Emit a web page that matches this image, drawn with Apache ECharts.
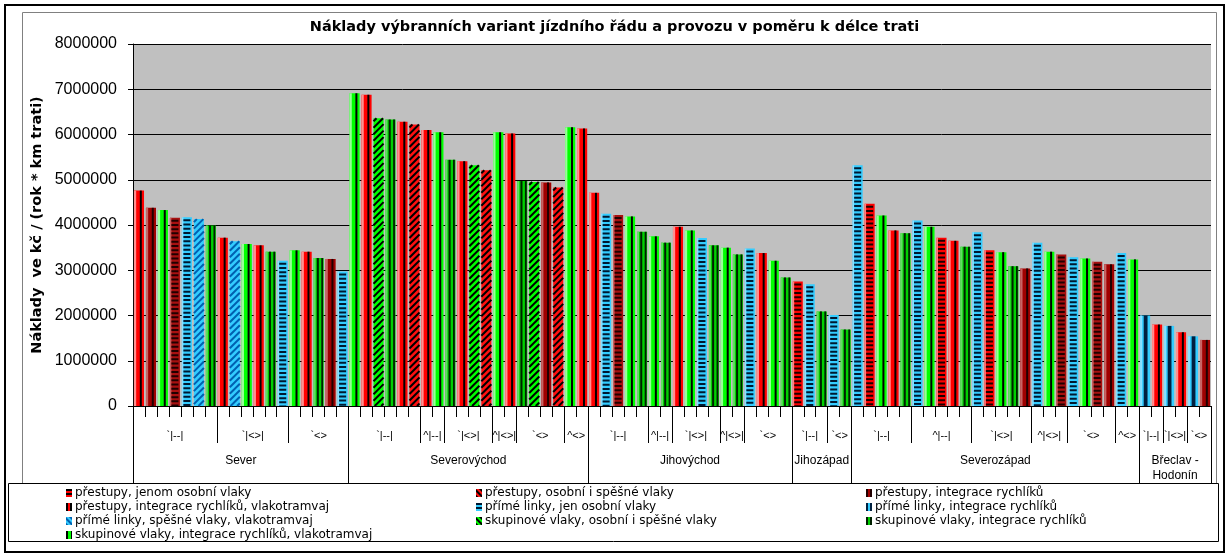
<!DOCTYPE html>
<html>
<head>
<meta charset="utf-8">
<script src="https://cdn.jsdelivr.net/npm/echarts@6/dist/echarts.min.js"></script>
<style>
  html, body { margin: 0; padding: 0; background: #fff; }
  #chart { width: 1229px; height: 556px; }
</style>
</head>
<body>
<div id="chart"></div>
<script>
// ---- data -------------------------------------------------------------
const titleText = 'Náklady výbranních variant jízdního řádu a provozu v poměru k délce trati';
const yAxisTitle = 'Náklady  ve kč / (rok * km trati)';
const yTicks = { min: 0, max: 8000000, step: 1000000 };

const seriesNames = [
  'přestupy, jenom osobní vlaky',
  'přestupy, osobní i spěšné vlaky',
  'přestupy, integrace rychlíků',
  'přestupy, integrace rychlíků, vlakotramvaj',
  'přímé linky, jen osobní vlaky',
  'přímé linky, integrace rychlíků',
  'přímé linky, spěšné vlaky, vlakotramvaj',
  'skupinové vlaky, osobní i spěšné vlaky',
  'skupinové vlaky, integrace rychlíků',
  'skupinové vlaky, integrace rychlíků, vlakotramvaj'
];

const regions = ['Sever', 'Severovýchod', 'Jihovýchod', 'Jihozápad', 'Severozápad', 'Břeclav -\nHodonín'];

// timetable sub-variants of each region: [label, number of bars]
const subgroups = [
  [['`|--|', 7], ['`|<>|', 6], ['`<>', 5]],
  [['`|--|', 6], ['^|--|', 2], ['`|<>|', 4], ['^|<>|', 2], ['`<>', 4], ['^<>', 2]],
  [['`|--|', 5], ['^|--|', 2], ['`|<>|', 4], ['^|<>|', 2], ['`<>', 4]],
  [['`|--|', 3], ['`<>', 2]],
  [['`|--|', 5], ['^|--|', 5], ['`|<>|', 5], ['^|<>|', 3], ['`<>', 4], ['^<>', 2]],
  [['`|--|', 2], ['`|<>|', 2], ['`<>', 2]]
];

// cost per bar (Kč / year / km) and its operating variant
const valuesSever = [4760000, 4380000, 4330000, 4160000, 4170000, 4130000, 3990000, 3720000, 3640000,
  3580000, 3550000, 3410000, 3210000, 3440000, 3410000, 3270000, 3250000, 2970000];
const kindsSever = ['RV', 'DR', 'GV', 'DH', 'BH', 'BD', 'DG', 'RV', 'BD', 'GV', 'RV', 'DG', 'BH', 'GV', 'RV', 'DG', 'DR', 'BH'];

const valuesSeverovychod = [6910000, 6880000, 6360000, 6330000, 6280000, 6220000, 6100000, 6050000, 5440000, 5410000,
  5320000, 5210000, 6050000, 6020000, 4970000, 4950000, 4940000, 4830000, 6160000, 6130000];
const kindsSeverovychod = ['GV', 'RV', 'GD', 'DG', 'RV', 'RD', 'RV', 'GV', 'DG', 'RV', 'GD', 'RD', 'GV', 'RV', 'DG', 'GD', 'DR', 'RD', 'GV', 'RV'];

const valuesJihovychod = [4710000, 4250000, 4220000, 4190000, 3850000, 3750000, 3610000, 3960000, 3880000,
  3710000, 3550000, 3500000, 3350000, 3480000, 3380000, 3210000, 2840000];
const kindsJihovychod = ['RV', 'BH', 'DH', 'GV', 'DG', 'GV', 'DG', 'RV', 'GV', 'BH', 'DG', 'GV', 'DG', 'BH', 'RV', 'GV', 'DG'];

const valuesJihozapad = [2750000, 2690000, 2090000, 2010000, 1690000];
const kindsJihozapad = ['RH', 'BH', 'DG', 'BH', 'DG'];

const valuesSeverozapad = [5320000, 4470000, 4210000, 3880000, 3820000, 4100000, 3960000, 3720000, 3650000, 3520000,
  3840000, 3440000, 3400000, 3090000, 3040000, 3610000, 3410000, 3350000, 3290000, 3260000, 3190000, 3130000, 3380000, 3240000];
const kindsSeverozapad = ['BH', 'RH', 'GV', 'RV', 'DG', 'BH', 'GV', 'RH', 'RV', 'DG', 'BH', 'RH', 'GV', 'DG', 'DR', 'BH',
  'GV', 'DH', 'BH', 'GV', 'DH', 'DR', 'BH', 'GV'];

const valuesBreclav = [2000000, 1800000, 1770000, 1630000, 1540000, 1460000];
const kindsBreclav = ['BV', 'RV', 'BV', 'RV', 'BV', 'DR'];

// ---- bar appearance per variant -------------------------------------
const kindStyles = {
  RH: { series: 0, fill: '#FF0000', tint: '#FF8080', pattern: 'h', ink: '#1A0000' },
  RD: { series: 1, fill: '#FF1010', tint: '#FF8080', pattern: 'd', ink: '#000000' },
  DR: { series: 2, fill: '#A00000', tint: '#C86464', pattern: 'v', ink: '#200000' },
  DH: { series: 2, fill: '#A81010', tint: '#C86464', pattern: 'h', ink: '#200000' },
  RV: { series: 3, fill: '#FF0000', tint: '#FF9090', pattern: 'v', ink: '#000000' },
  BH: { series: 4, fill: '#33CCFF', tint: '#8ADFFF', pattern: 'h', ink: '#001830' },
  BV: { series: 5, fill: '#33CCFF', tint: '#8ADFFF', pattern: 'vb', ink: '#002040' },
  BD: { series: 6, fill: '#33CCFF', tint: '#8ADFFF', pattern: 'd', ink: '#0060B0' },
  GD: { series: 7, fill: '#00FF00', tint: '#80FF80', pattern: 'd', ink: '#000000' },
  DG: { series: 8, fill: '#00D000', tint: '#60E060', pattern: 'vv', ink: '#002000' },
  GV: { series: 9, fill: '#00FF00', tint: '#99FF99', pattern: 'v', ink: '#000000' }
};
const legendColors = ['#FF0000', '#FF1010', '#A00000', '#FF0000', '#33CCFF', '#33CCFF', '#33CCFF', '#00FF00', '#00D000', '#00FF00'];
const legendDecals = [
  { color: '#000', dashArrayX: [1, 0], dashArrayY: [2, 2], symbolSize: 1 },
  { color: '#000', dashArrayX: [1, 0], dashArrayY: [2, 2], rotation: Math.PI / 4, symbolSize: 1 },
  { color: '#200000', dashArrayX: [2, 2], dashArrayY: [1, 0], symbolSize: 1 },
  { color: '#000', dashArrayX: [2, 2], dashArrayY: [1, 0], symbolSize: 1 },
  { color: '#001830', dashArrayX: [1, 0], dashArrayY: [2, 2], symbolSize: 1 },
  { color: '#002040', dashArrayX: [2, 2], dashArrayY: [1, 0], symbolSize: 1 },
  { color: '#0060B0', dashArrayX: [1, 0], dashArrayY: [2, 2], rotation: Math.PI / 4, symbolSize: 1 },
  { color: '#000', dashArrayX: [1, 0], dashArrayY: [2, 2], rotation: Math.PI / 4, symbolSize: 1 },
  { color: '#002000', dashArrayX: [2, 2], dashArrayY: [1, 0], symbolSize: 1 },
  { color: '#000', dashArrayX: [2, 3], dashArrayY: [1, 0], symbolSize: 1 }
];

// ---- assemble ---------------------------------------------------------
const values = [].concat(valuesSever, valuesSeverovychod, valuesJihovychod, valuesJihozapad, valuesSeverozapad, valuesBreclav);
const kinds = [].concat(kindsSever, kindsSeverovychod, kindsJihovychod, kindsJihozapad, kindsSeverozapad, kindsBreclav);
const barCount = values.length;
const barIds = values.map((_, i) => String(i));

// half-bar positions for the two label rows under the axis
const halfSlots = [];
for (let i = 0; i <= barCount * 2; i++) halfSlots.push(String(i));
const subBounds = new Set([0]);
const subCenters = new Map();
const regionBounds = new Set([0]);
const regionCenters = new Map();
let pos = 0;
subgroups.forEach((subs, r) => {
  const start = pos;
  subs.forEach(([label, n]) => {
    subCenters.set(2 * pos + n, label);
    pos += n;
    subBounds.add(2 * pos);
  });
  regionCenters.set(start + pos, regions[r]);
  regionBounds.add(2 * pos);
});

function rect(x, y, w, h, fill) {
  return { type: 'rect', shape: { x: x, y: y, width: w, height: h }, style: { fill: fill } };
}

function drawBar(params, api) {
  const i = api.value(0);
  const st = kindStyles[kinds[i]];
  const p1 = api.coord([i, api.value(1)]);
  const p0 = api.coord([i, 0]);
  const w = api.size([1, 0])[0] * 0.84;
  const L = p1[0] - w / 2, T = p1[1], B = p0[1], H = B - T;
  const kids = [rect(L, T, w, H, st.fill)];
  if (st.pattern === 'v') {
    kids.push(rect(L, T, w * 0.22, H, st.tint));
    kids.push(rect(L + w * 0.58, T, w * 0.2, H, st.ink));
  } else if (st.pattern === 'vv') {
    kids.push(rect(L, T, w * 0.2, H, st.tint));
    kids.push(rect(L + w * 0.32, T, w * 0.2, H, st.ink));
    kids.push(rect(L + w * 0.76, T, w * 0.18, H, st.ink));
  } else if (st.pattern === 'vb') {
    kids.push(rect(L, T, w * 0.2, H, st.tint));
    kids.push(rect(L + w * 0.36, T, w * 0.38, H, st.ink));
  } else if (st.pattern === 'h') {
    kids.push(rect(L, T, w * 0.15, H, st.tint));
    kids.push({
      type: 'line',
      shape: { x1: L + w / 2, y1: T + 2, x2: L + w / 2, y2: B },
      style: { stroke: st.ink, lineWidth: w * 0.7, lineDash: [2, 2.2] }
    });
  } else if (st.pattern === 'd') {
    const step = 6.5;
    for (let c = L + T + 3; c < L + w + B; c += step) {
      const xa = Math.max(L, c - B), xb = Math.min(L + w, c - T);
      if (xb > xa + 0.3) {
        kids.push({ type: 'line', shape: { x1: xa, y1: c - xa, x2: xb, y2: c - xb },
          style: { stroke: st.ink, lineWidth: 2 } });
      }
    }
  }
  return { type: 'group', children: kids };
}

const series = seriesNames.map((name, s) => ({
  type: 'custom',
  name: name,
  xAxisIndex: 0,
  yAxisIndex: 0,
  renderItem: drawBar,
  encode: { x: 0, y: 1 },
  itemStyle: { color: legendColors[s] },
  data: values.map((v, i) => [i, v]).filter(d => kindStyles[kinds[d[0]]].series === s)
}));

const legendBase = {
  orient: 'vertical',
  top: 487,
  padding: 0,
  itemGap: 2,
  itemWidth: 6,
  itemHeight: 8,
  icon: 'rect',
  selectedMode: false,
  textStyle: { fontFamily: 'DejaVu Sans', fontSize: 12, color: '#000', padding: [0, 0, 0, -2] }
};
const legendItem = s => ({ name: seriesNames[s], itemStyle: { decal: legendDecals[s] } });

const chart = echarts.init(document.getElementById('chart'), null, { renderer: 'canvas' });
chart.setOption({
  animation: false,
  backgroundColor: '#fff',
  textStyle: { fontFamily: 'Liberation Sans' },
  title: {
    text: titleText,
    left: 'center',
    top: 20,
    padding: 0,
    textStyle: { fontFamily: 'DejaVu Sans', fontWeight: 'bold', fontSize: 14.5, color: '#000' }
  },
  grid: {
    left: 133, right: 18, top: 44, bottom: 150,
    show: true, backgroundColor: '#C0C0C0', borderWidth: 0
  },
  legend: [
    Object.assign({}, legendBase, { left: 66, data: [0, 3, 6, 9].map(legendItem) }),
    Object.assign({}, legendBase, { left: 476, data: [1, 4, 7].map(legendItem) }),
    Object.assign({}, legendBase, { left: 866, data: [2, 5, 8].map(legendItem) })
  ],
  xAxis: [
    {
      type: 'category', gridIndex: 0, position: 'bottom', data: barIds, boundaryGap: true,
      axisLine: { show: true, lineStyle: { color: '#000', width: 1 } },
      axisTick: { show: true, interval: 0, length: 11, lineStyle: { color: '#000' } },
      axisLabel: { show: false },
      splitLine: { show: false }
    },
    {
      type: 'category', gridIndex: 0, position: 'bottom', data: halfSlots, boundaryGap: false,
      axisLine: { show: false },
      axisTick: { show: true, length: 37, interval: i => subBounds.has(i), lineStyle: { color: '#000' } },
      axisLabel: {
        show: true, interval: i => subCenters.has(i), formatter: (v, i) => subCenters.get(i) || '',
        margin: 24, fontSize: 11, color: '#000', fontFamily: 'Liberation Sans'
      },
      splitLine: { show: false }
    },
    {
      type: 'category', gridIndex: 0, position: 'bottom', data: halfSlots, boundaryGap: false,
      axisLine: { show: false },
      axisTick: { show: true, length: 77, interval: i => regionBounds.has(i), lineStyle: { color: '#000' } },
      axisLabel: {
        show: true, interval: i => regionCenters.has(i), formatter: (v, i) => regionCenters.get(i) || '',
        margin: 47, fontSize: 12, lineHeight: 15, verticalAlign: 'top', color: '#000', fontFamily: 'Liberation Sans'
      },
      splitLine: { show: false }
    }
  ],
  yAxis: {
    type: 'value', min: yTicks.min, max: yTicks.max, interval: yTicks.step,
    name: yAxisTitle, nameLocation: 'middle', nameRotate: 90, nameGap: 88, nameMoveOverlap: false,
    nameTextStyle: { fontFamily: 'DejaVu Sans', fontWeight: 'bold', fontSize: 14.5, color: '#000' },
    axisLine: { show: true, lineStyle: { color: '#000' } },
    axisTick: { show: true, length: 5, lineStyle: { color: '#000' } },
    axisLabel: { margin: 16, fontSize: 16, color: '#000', fontFamily: 'Liberation Sans', formatter: v => String(v) },
    splitLine: { show: true, lineStyle: { color: '#000', width: 1 } }
  },
  series: series,
  graphic: [
    { type: 'rect', shape: { x: 5, y: 5, width: 1219, height: 547 },
      style: { fill: 'none', stroke: '#000', lineWidth: 2 }, silent: true },
    { type: 'rect', shape: { x: 22.5, y: 12.5, width: 1194, height: 471 },
      style: { fill: 'none', stroke: '#808080', lineWidth: 1 }, silent: true },
    { type: 'rect', shape: { x: 8.5, y: 483.5, width: 1210, height: 58 },
      style: { fill: 'none', stroke: '#000', lineWidth: 1 }, silent: true }
  ]
});
</script>
</body>
</html>
